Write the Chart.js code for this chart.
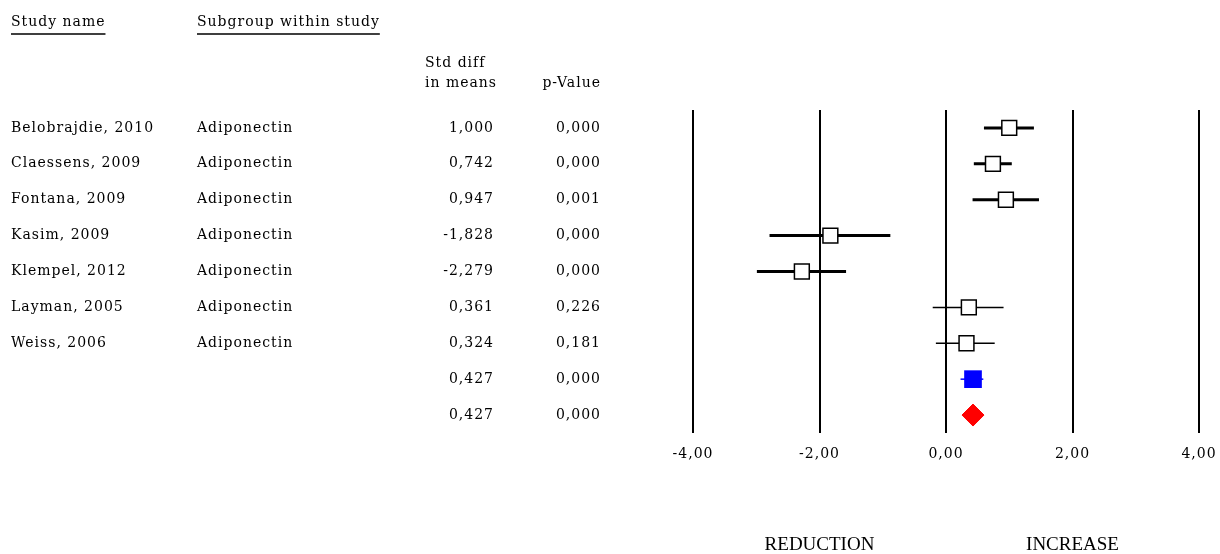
<!DOCTYPE html>
<html>
<head>
<meta charset="utf-8">
<script src="https://cdn.jsdelivr.net/npm/chart.js@4.4.1/dist/chart.umd.min.js"></script>
<style>
  body { margin: 0; background: #fff; }
  #wrap { width: 1220px; height: 554px; position: relative; }
</style>
</head>
<body>
<div id="wrap"><canvas id="graphique"></canvas></div>
<script>
// forest plot data
var studies   = ['Belobrajdie, 2010', 'Claessens, 2009', 'Fontana, 2009', 'Kasim, 2009', 'Klempel, 2012', 'Layman, 2005', 'Weiss, 2006', '', ''];
var subgroups = ['Adiponectin', 'Adiponectin', 'Adiponectin', 'Adiponectin', 'Adiponectin', 'Adiponectin', 'Adiponectin', '', ''];
var stdDiff   = [1.000, 0.742, 0.947, -1.828, -2.279, 0.361, 0.324, 0.427, 0.427];
var pValues   = [0.000, 0.000, 0.001, 0.000, 0.000, 0.226, 0.181, 0.000, 0.000];
var lower     = [0.60, 0.44, 0.42, -2.79, -2.99, -0.21, -0.16, 0.23, 0.27];
var upper     = [1.39, 1.04, 1.47, -0.88, -1.58, 0.91, 0.77, 0.59, 0.63];
var xTicks    = [-4, -2, 0, 2, 4];

var FONT = '"DejaVu Serif", serif';
var nStudies = 7;
var fixedRow = 7, randomRow = 8;
// thick CI lines for the heavier studies
var ciWidth = [3, 3, 3, 3, 3, 1.5, 1.5];

function fmt(v) {
  return v.toFixed(3).replace('.', ',');
}

var datasets = [];

// study squares (on top)
datasets.push({
  data: stdDiff.slice(0, nStudies).map(function (v, i) { return {x: v, y: i}; }),
  pointStyle: 'rect',
  pointRadius: 10.5,
  backgroundColor: '#fff',
  borderColor: '#000',
  borderWidth: 1.5,
  showLine: false,
  order: 0
});
// fixed effect summary
datasets.push({
  data: [{x: stdDiff[fixedRow], y: fixedRow}],
  pointStyle: 'rect',
  pointRadius: 12.5,
  backgroundColor: '#0000ff',
  borderColor: '#0000ff',
  borderWidth: 0,
  showLine: false,
  order: 0
});
// random effect diamond
datasets.push({
  data: [{x: stdDiff[randomRow], y: randomRow}],
  pointStyle: 'rectRot',
  pointRadius: 11,
  backgroundColor: '#ff0000',
  borderColor: '#ff0000',
  borderWidth: 1,
  showLine: false,
  order: 0
});
// confidence intervals
for (var i = 0; i < nStudies; i++) {
  datasets.push({
    data: [{x: lower[i], y: i}, {x: upper[i], y: i}],
    showLine: true,
    borderColor: '#000',
    borderWidth: ciWidth[i],
    pointRadius: 0,
    order: 1
  });
}
datasets.push({
  data: [{x: lower[fixedRow], y: fixedRow}, {x: upper[fixedRow], y: fixedRow}],
  showLine: true,
  borderColor: '#0000ff',
  borderWidth: 1.5,
  pointRadius: 0,
  order: 1
});

// table text on the left + bottom labels
var tablePlugin = {
  id: 'table',
  beforeDraw: function (chart) {
    chart.ctx.letterSpacing = '1px';
  },
  afterDraw: function (chart) {
    var ctx = chart.ctx;
    var ys = chart.scales.y;
    var xs = chart.scales.x;
    ctx.save();
    ctx.fillStyle = '#000';
    ctx.strokeStyle = '#000';
    ctx.font = '14px ' + FONT;
    ctx.letterSpacing = '1px';
    ctx.textBaseline = 'middle';

    // headers
    ctx.textAlign = 'left';
    ctx.fillText('Study name', 11, 22);
    ctx.fillText('Subgroup within study', 197, 22);
    ctx.lineWidth = 1.5;
    ctx.beginPath();
    ctx.moveTo(11, 34); ctx.lineTo(11 + ctx.measureText('Study name').width, 34);
    ctx.moveTo(197, 34); ctx.lineTo(197 + ctx.measureText('Subgroup within study').width, 34);
    ctx.stroke();
    ctx.fillText('Std diff', 425, 63);
    ctx.fillText('in means', 425, 83);
    ctx.textAlign = 'right';
    ctx.fillText('p-Value', 601, 83);

    for (var i = 0; i < stdDiff.length; i++) {
      var y = ys.getPixelForValue(i);
      ctx.textAlign = 'left';
      ctx.fillText(studies[i], 11, y);
      ctx.fillText(subgroups[i], 197, y);
      ctx.textAlign = 'right';
      ctx.fillText(fmt(stdDiff[i]), 494, y);
      ctx.fillText(fmt(pValues[i]), 601, y);
    }

    ctx.font = '19px "Liberation Serif", serif';
    ctx.letterSpacing = '0px';
    ctx.textAlign = 'center';
    ctx.fillText('REDUCTION', xs.getPixelForValue(-2), 545);
    ctx.fillText('INCREASE', xs.getPixelForValue(2), 545);
    ctx.restore();
  }
};

var ctx = document.getElementById('graphique');
var myChart = new Chart(ctx, {
  type: 'scatter',
  data: {datasets: datasets},
  options: {
    responsive: true,
    maintainAspectRatio: false,
    animation: false,
    layout: {padding: {left: 693, right: 21, top: 110, bottom: 81}},
    plugins: {legend: {display: false}, tooltip: {enabled: false}},
    scales: {
      x: {
        type: 'linear',
        min: -4,
        max: 4,
        afterBuildTicks: function (scale) {
          scale.ticks = xTicks.map(function (v) { return {value: v}; });
        },
        afterFit: function (scale) {
          scale.height = 40;
          scale.paddingLeft = 0;
          scale.paddingRight = 0;
        },
        grid: {color: '#000', lineWidth: 2, drawTicks: false},
        border: {display: false},
        ticks: {
          color: '#000',
          padding: 13,
          maxRotation: 0,
          font: {family: FONT, size: 14},
          callback: function (v) { return v.toFixed(2).replace('.', ','); }
        }
      },
      y: {
        type: 'linear',
        min: -0.5,
        max: 8.5,
        reverse: true,
        display: false
      }
    }
  },
  plugins: [tablePlugin]
});
</script>
</body>
</html>
